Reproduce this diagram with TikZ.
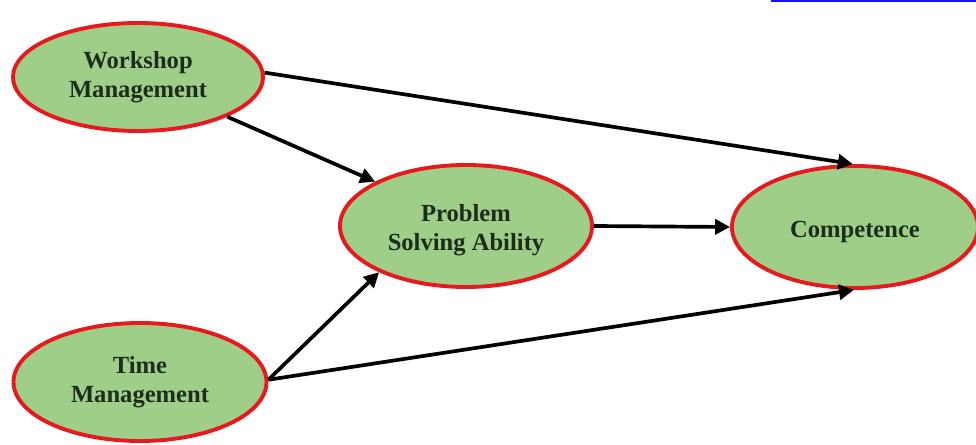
\documentclass[tikz,border=0pt]{standalone}
\usepackage{fontspec}
\setmainfont{Liberation Serif}
\usetikzlibrary{shapes.geometric,arrows.meta}
\definecolor{ellfill}{RGB}{158,206,135}
\definecolor{ellborder}{RGB}{232,24,30}
\definecolor{txtcol}{RGB}{28,45,28}
\definecolor{linkblue}{RGB}{20,20,240}
\begin{document}
\begin{tikzpicture}[x=0.02cm,y=-0.02cm,
  construct/.style={ellipse,draw=ellborder,line width=2.2pt,fill=ellfill,
    inner sep=0pt,align=center,text=txtcol,
    font=\fontsize{14}{16.5}\selectfont\bfseries},
  path/.style={line width=2.1pt,draw=black,-{Triangle[length=8.5pt,width=8.5pt]}}]
\useasboundingbox (0,0) rectangle (976,445);
\fill[linkblue] (771,0) rectangle (976,2.2);
\node[construct,minimum width=250*0.02cm,minimum height=108*0.02cm] (ws) at (138,77) {Workshop\\Management};
\node[construct,minimum width=252*0.02cm,minimum height=122*0.02cm] (ps) at (466,226) {\rule{0pt}{14.5pt}Problem\\Solving Ability};
\node[construct,minimum width=246*0.02cm,minimum height=122*0.02cm] (co) at (855,227) {\rule{0pt}{14.5pt}Competence};
\node[construct,minimum width=253*0.02cm,minimum height=118*0.02cm] (tm) at (140,382) {Time\\Management};
\draw[path] (ws.2) -- (co.92);
\draw[path] (ws.-24.5) -- (ps.154.9);
\draw[path] (ps.east) -- (co.west);
\draw[path] (tm.1) -- (ps.208.3);
\draw[path] (tm.1) -- (co.269);
\end{tikzpicture}
\end{document}
